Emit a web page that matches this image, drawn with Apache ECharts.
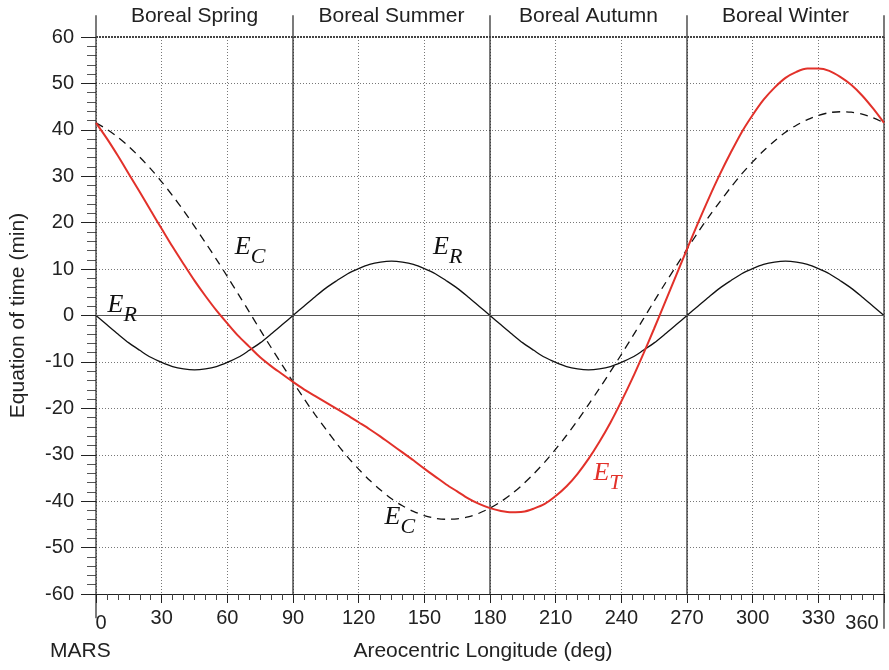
<!DOCTYPE html>
<html><head><meta charset="utf-8">
<script src="https://cdn.jsdelivr.net/npm/echarts@6/dist/echarts.min.js"></script>
<style>html,body{margin:0;padding:0;background:#fff}#c{width:889px;height:670px}</style>
</head><body><div id="c"></div>
<script>
// ---- data ----
const longitudes = [0,5,10,15,20,25,30,35,40,45,50,55,60,65,70,75,80,85,90,95,100,105,110,115,120,125,130,135,140,145,150,155,160,165,170,175,180,185,190,195,200,205,210,215,220,225,230,235,240,245,250,255,260,265,270,275,280,285,290,295,300,305,310,315,320,325,330,335,340,345,350,355,360];
const eR = [0,-2.0,-4.0,-5.9,-7.5,-9.0,-10.1,-11.0,-11.5,-11.7,
  -11.5,-11.0,-10.1,-9.0,-7.5,-5.9,-4.0,-2.0,0,
  2.0,4.0,5.9,7.5,9.0,10.1,11.0,11.5,11.7,
  11.5,11.0,10.1,9.0,7.5,5.9,4.0,2.0,0,
  -2.0,-4.0,-5.9,-7.5,-9.0,-10.1,-11.0,-11.5,-11.7,
  -11.5,-11.0,-10.1,-9.0,-7.5,-5.9,-4.0,-2.0,0,
  2.0,4.0,5.9,7.5,9.0,10.1,11.0,11.5,11.7,
  11.5,11.0,10.1,9.0,7.5,5.9,4.0,2.0,0];
const eC = [41.5,40.1,38.4,36.4,34.1,31.6,28.8,25.8,22.6,19.2,
  15.7,12.1,8.4,4.6,0.8,-3.1,-6.9,-10.6,-14.3,
  -17.9,-21.3,-24.5,-27.6,-30.5,-33.1,-35.5,-37.6,-39.5,
  -41.0,-42.2,-43.1,-43.7,-43.9,-43.8,-43.4,-42.6,-41.5,
  -40.1,-38.4,-36.4,-34.1,-31.6,-28.8,-25.8,-22.6,-19.2,
  -15.7,-12.1,-8.4,-4.6,-0.8,3.1,6.9,10.6,14.3,
  17.9,21.3,24.5,27.6,30.5,33.1,35.5,37.6,39.5,
  41.0,42.2,43.1,43.7,43.9,43.8,43.4,42.6,41.5];
const eT = [41.5,38.1,34.4,30.5,26.6,22.6,18.7,14.8,11.1,7.5,
  4.2,1.1,-1.7,-4.4,-6.7,-9.0,-10.9,-12.6,-14.3,
  -15.9,-17.3,-18.7,-20.1,-21.5,-23.0,-24.5,-26.1,-27.8,
  -29.5,-31.2,-33.0,-34.7,-36.4,-37.9,-39.4,-40.6,-41.5,
  -42.1,-42.4,-42.3,-41.6,-40.6,-38.9,-36.8,-34.1,-30.9,
  -27.2,-23.1,-18.5,-13.6,-8.3,-2.8,2.9,8.6,14.3,
  19.9,25.3,30.4,35.1,39.5,43.2,46.5,49.1,51.2,
  52.5,53.2,53.2,52.7,51.4,49.7,47.4,44.6,41.5];
const seasons = ['Boreal Spring','Boreal Summer','Boreal Autumn','Boreal Winter'];
const seasonBounds = [0,90,180,270,360];
const xTickLabels = ['0','30','60','90','120','150','180','210','240','270','300','330','360'];
const yTickLabels = ['-60','-50','-40','-30','-20','-10','0','10','20','30','40','50','60'];
// curve annotations: [longitude, value]
const labelEC = [[70.4,13.9],[138.8,-44.3]];
const labelER = [[12.0,1.4],[160.7,13.9]];
const labelET = [[233.7,-34.8]];

// ---- chart ----
const SANS = "'Liberation Sans', Arial, Helvetica, sans-serif";
const SERIF = "'Liberation Serif', 'Times New Roman', serif";
const RED = '#e2312a';
function richFor(color){
  return {
    e:{fontFamily:SERIF,fontStyle:'italic',fontSize:26,verticalAlign:'top',color:color},
    s:{fontFamily:SERIF,fontStyle:'italic',fontSize:22,verticalAlign:'top',padding:[12,0,0,0],color:color}
  };
}
function marks(points, sub, color){
  return {
    silent:true, animation:false,
    symbol:'circle', symbolSize:0,
    itemStyle:{color:'transparent'},
    label:{show:true, position:'inside', formatter:'{e|E}{s|'+sub+'}', rich:richFor(color)},
    data: points.map(p=>({coord:p}))
  };
}
const chart = echarts.init(document.getElementById('c'), null, {renderer:'canvas'});
chart.setOption({
  animation:false,
  backgroundColor:'#fff',
  title:{text:'MARS', left:45, top:636, padding:5, textStyle:{fontFamily:SANS,fontSize:21,fontWeight:'normal',color:'#222'}},
  grid:{left:95, right:5, top:37, bottom:76, containLabel:false},
  xAxis:[{
    type:'value', min:0, max:360, interval:30, position:'bottom',
    axisLine:{show:true, onZero:false, lineStyle:{color:'#222', width:1.2}},
    axisTick:{show:true, length:9, lineStyle:{color:'#222'}},
    minorTick:{show:true, splitNumber:6, length:6, lineStyle:{color:'#444'}},
    axisLabel:{fontFamily:SANS, fontSize:20, color:'#222', margin:14,
      formatter:function(v){
        const t = xTickLabels[Math.round(v/30)];
        if (v===0) return '{lo|'+t+'}';
        if (v===360) return '{hi|'+t+'}';
        return t;
      },
      rich:{lo:{fontFamily:SANS,fontSize:20,color:'#222',padding:[5,0,0,10]},
            hi:{fontFamily:SANS,fontSize:20,color:'#222',padding:[5,44,0,0]}}},
    splitLine:{show:true, lineStyle:{color:'#777', type:[1,2], width:1}},
    name:'Areocentric Longitude (deg)', nameLocation:'middle', nameGap:47,
    nameTextStyle:{fontFamily:SANS, fontSize:21, color:'#222', padding:[0,14,0,0]}
  },{
    type:'category', data:seasons, position:'top', boundaryGap:true,
    axisLine:{show:false}, axisTick:{show:false}, splitLine:{show:false},
    axisLabel:{fontFamily:SANS, fontSize:21, color:'#222', margin:10}
  }],
  yAxis:{
    type:'value', min:-60, max:60, interval:10,
    axisLine:{show:false},
    axisTick:{show:true, length:15, lineStyle:{color:'#222'}},
    minorTick:{show:true, splitNumber:5, length:9, lineStyle:{color:'#555'}},
    axisLabel:{fontFamily:SANS, fontSize:20, color:'#222', margin:22,
      formatter:function(v){ return yTickLabels[Math.round((v+60)/10)]; }},
    splitLine:{show:true, lineStyle:{color:'#777', type:[1,2], width:1}},
    name:'Equation of time (min)', nameLocation:'middle', nameGap:67, nameRotate:90,
    nameTextStyle:{fontFamily:SANS, fontSize:21, color:'#222'}
  },
  series:[
    {
      type:'custom', name:'frame', silent:true, clip:false, z:3, xAxisIndex:0,
      data: seasonBounds.map(v=>[v,0]),
      renderItem:function(params, api){
        const x = api.value(0);
        let bot = -60;
        if (x===0) bot = -65.2;
        if (x===360) bot = -67.5;
        const p1 = api.coord([x, 64.7]);
        const p2 = api.coord([x, bot]);
        return {type:'line', shape:{x1:p1[0],y1:p1[1],x2:p2[0],y2:p2[1]},
                style:{stroke:'#222', lineWidth:1.2}};
      }
    },
    {
      type:'line', name:'E_R', xAxisIndex:0, data: longitudes.map((x,i)=>[x,eR[i]]),
      showSymbol:false, smooth:0.3, z:4,
      lineStyle:{color:'#111', width:1.3},
      markLine:{silent:true, symbol:'none', animation:false, label:{show:false},
        data:[{yAxis:0, lineStyle:{color:'#555', type:'solid', width:1.2}},
              {yAxis:60, lineStyle:{color:'#444', type:[2,1], width:2}}]},
      markPoint: marks(labelER, 'R', '#111')
    },
    {
      type:'line', name:'E_C', xAxisIndex:0, data: longitudes.map((x,i)=>[x,eC[i]]),
      showSymbol:false, smooth:0.3, z:4,
      lineStyle:{color:'#111', width:1.3, type:[8,6]},
      markPoint: marks(labelEC, 'C', '#111')
    },
    {
      type:'line', name:'E_T', xAxisIndex:0, data: longitudes.map((x,i)=>[x,eT[i]]),
      showSymbol:false, smooth:0.3, z:5,
      lineStyle:{color:RED, width:2},
      markPoint: marks(labelET, 'T', RED)
    }
  ]
});
</script>
</body></html>
